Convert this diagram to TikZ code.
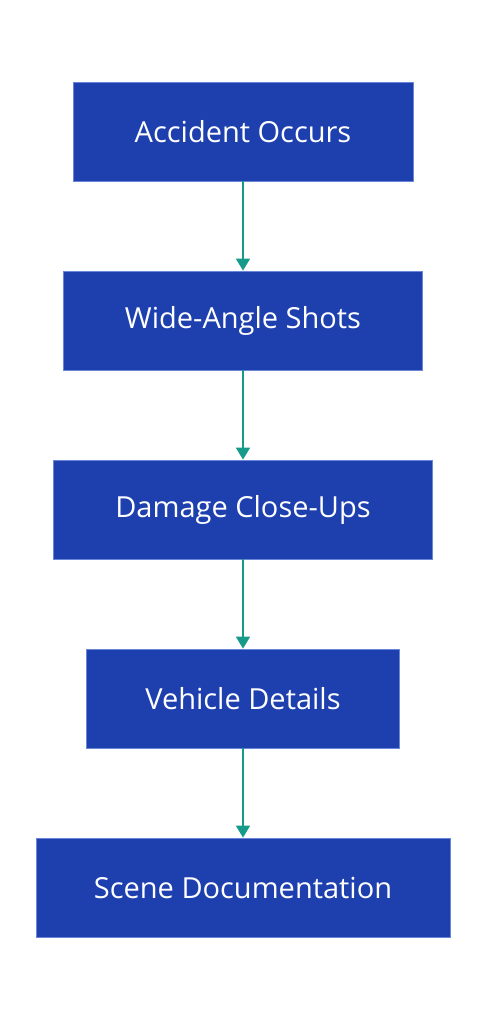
\documentclass[tikz,border=0pt]{standalone}
\usepackage{fontspec}
\setmainfont{Open Sans}
\usepackage{tikz}
\usetikzlibrary{positioning, arrows.meta}
\usepackage{xcolor}
\definecolor{boxblue}{HTML}{1E40AF}
\definecolor{boxedge}{HTML}{6A86D6}
\definecolor{flowteal}{HTML}{169A8A}
\tikzset{
    stage/.style={
        rectangle, draw=boxedge, line width=0.8pt,
        fill=boxblue, text=white,
        minimum height=99pt, inner sep=0pt,
        font=\fontsize{29}{34}\selectfont
    },
    flow/.style={
        draw=flowteal, line width=1.6pt,
        -{Triangle[length=12pt, width=14pt]}
    }
}

\begin{document}
\begin{tikzpicture}[
    node distance=89.2pt
]
\useasboundingbox (0,0) rectangle (486pt,-1020pt);

\node[stage, minimum width=340pt] (accident) at (243pt,-131.5pt) {Accident Occurs};
\node[stage, minimum width=359pt, below=of accident] (wide) {Wide-Angle Shots};
\node[stage, minimum width=379pt, below=of wide] (damage) {Damage Close-Ups};
\node[stage, minimum width=313pt, below=of damage] (vehicle) {Vehicle Details};
\node[stage, minimum width=414pt, below=of vehicle] (scene) {Scene Documentation};

\draw[flow] (accident) -- (wide);
\draw[flow] (wide) -- (damage);
\draw[flow] (damage) -- (vehicle);
\draw[flow] (vehicle) -- (scene);

\end{tikzpicture}
\end{document}
